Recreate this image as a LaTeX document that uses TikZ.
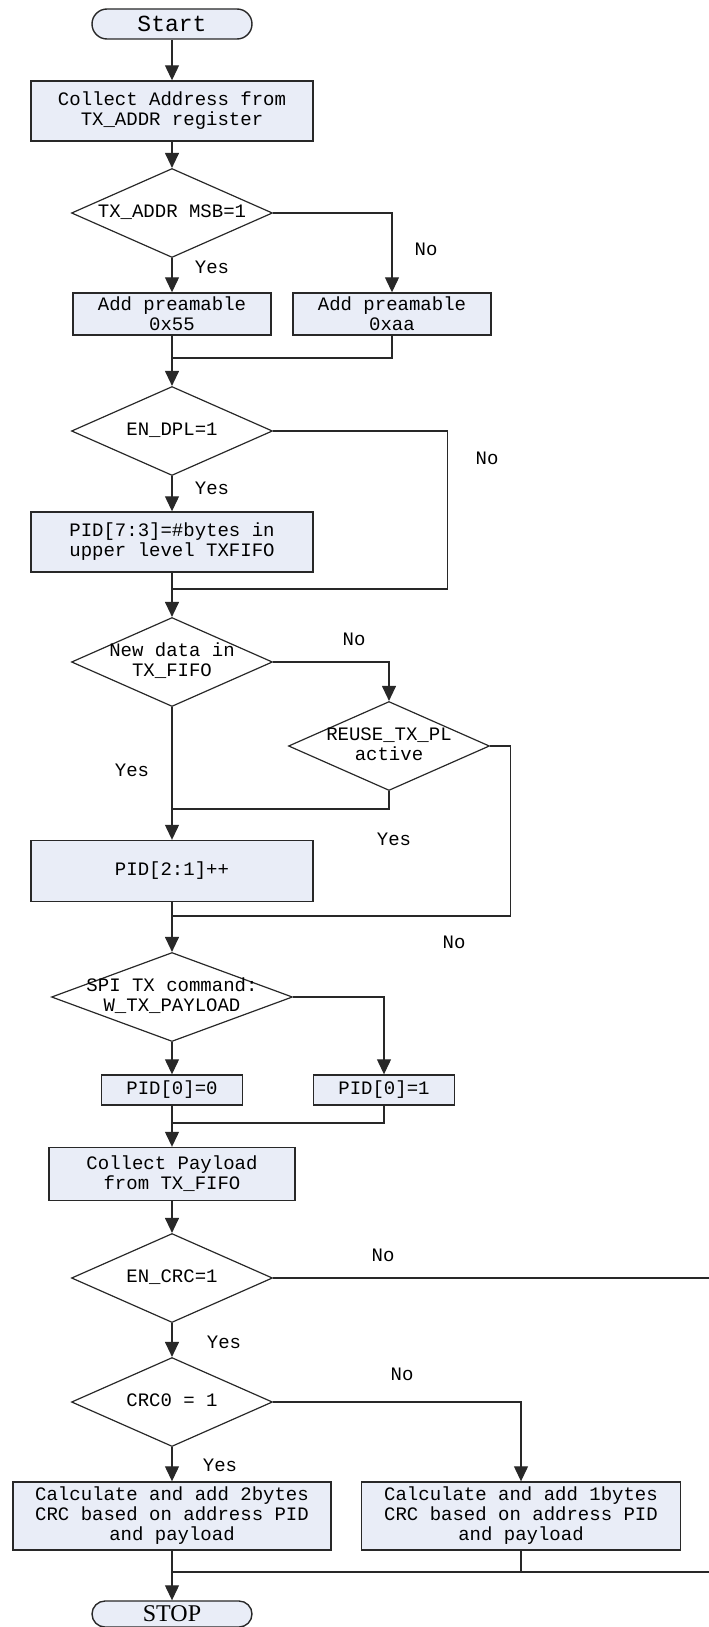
\documentclass[tikz,border=0pt]{standalone}
\usepackage{fontspec}
\setmainfont{Liberation Serif}
\setmonofont{Liberation Mono}
\usepackage{tikz}
\usetikzlibrary{shapes.geometric,arrows.meta}
\definecolor{boxfill}{RGB}{233,237,247}
\definecolor{edgegray}{RGB}{40,40,40}
\newcommand{\dtext}[1]{\raisebox{-0.25em}[0pt][0pt]{\makebox[0pt]{\begin{tabular}{@{}c@{}}#1\end{tabular}}}}
\tikzstyle{flowbox} = [draw=edgegray, fill=boxfill, line width=0.7pt,
    rectangle, inner sep=1pt, align=center, font=\fontsize{9.5pt}{10pt}\selectfont\ttfamily]
\tikzstyle{decisionbox} = [draw=edgegray, line width=0.6pt, diamond, inner sep=0pt,
    minimum width=100.5pt, minimum height=44.5pt, font=\fontsize{9.5pt}{10pt}\selectfont\ttfamily]
\tikzstyle{termbox} = [draw=edgegray, fill=boxfill, line width=0.7pt, rectangle,
    rounded corners=7.5pt, minimum width=80pt, minimum height=15pt, inner sep=0pt]
\tikzstyle{flowline} = [draw=edgegray, line width=0.6pt]
\tikzstyle{flowarrow} = [flowline, -{Triangle[length=7.5pt,width=7pt]}]
\tikzstyle{branchtext} = [inner sep=0pt, font=\fontsize{9.5pt}{10pt}\selectfont\ttfamily]

\begin{document}
\begin{tikzpicture}[x=0.5pt, y=-0.5pt]
                \useasboundingbox (0,0) rectangle (708,1627);
                \node [termbox, font=\fontsize{11.5pt}{12pt}\selectfont\ttfamily] (start) at (172,24) {Start};
                \node [flowbox, minimum width=141pt, minimum height=30pt] (addr) at (172,111) {Collect Address from\\TX\_ADDR register};
                \node [decisionbox] (msb) at (172,213) {\dtext{TX\_ADDR MSB=1}};
                \node [flowbox, minimum width=99pt, minimum height=21pt] (pre55) at (172,314) {Add preamable\\0x55};
                \node [flowbox, minimum width=99pt, minimum height=21pt] (preaa) at (392,314) {Add preamable\\0xaa};
                \node [decisionbox] (dpl) at (172,431) {\dtext{EN\_DPL=1}};
                \node [flowbox, minimum width=141pt, minimum height=30pt] (pidlen) at (172,542) {PID[7:3]=\#bytes in\\upper level TXFIFO};
                \node [decisionbox] (newdata) at (172,662) {\dtext{New data in\\TX\_FIFO}};
                \node [decisionbox] (reuse) at (389,746) {\dtext{REUSE\_TX\_PL\\active}};
                \node [flowbox, minimum width=141pt, minimum height=30.5pt] (pidinc) at (172,871) {PID[2:1]++};
                \node [decisionbox, minimum width=120.5pt] (spi) at (172,997) {\dtext{SPI TX command:\\W\_TX\_PAYLOAD}};
                \node [flowbox, minimum width=70.5pt, minimum height=15pt] (pid0) at (172,1090) {PID[0]=0};
                \node [flowbox, minimum width=70.5pt, minimum height=15pt] (pid1) at (384,1090) {PID[0]=1};
                \node [flowbox, minimum width=123pt, minimum height=26.5pt] (payload) at (172,1174) {Collect Payload\\from TX\_FIFO};
                \node [decisionbox] (crc) at (172,1278) {\dtext{EN\_CRC=1}};
                \node [decisionbox] (crco) at (172,1402) {\dtext{CRC0 = 1}};
                \node [flowbox, minimum width=159pt, minimum height=34pt] (crc2) at (172,1516) {Calculate and add 2bytes\\CRC based on address PID\\and payload};
                \node [flowbox, minimum width=159.5pt, minimum height=34pt] (crc1) at (521,1516) {Calculate and add 1bytes\\CRC based on address PID\\and payload};
                \node [termbox, minimum height=13pt, rounded corners=6.5pt, font=\fontsize{12pt}{12pt}\selectfont\rmfamily] (stop) at (172,1614) {STOP};
                \coordinate (j1) at (172,358);
                \coordinate (j2) at (172,589);
                \coordinate (j3) at (172,809);
                \coordinate (j4) at (172,916);
                \coordinate (j5) at (172,1123);
                \coordinate (j6) at (172,1572);
                \draw [flowarrow] (start) -- (addr);
                \draw [flowarrow] (addr) -- (msb);
                \draw [flowarrow] (msb) -- (pre55);
                \draw [flowarrow] (msb.east) -| (preaa.north);
                \draw [flowarrow] (pre55) -- (dpl);
                \draw [flowline] (preaa.south) |- (j1);
                \draw [flowarrow] (dpl) -- (pidlen);
                \draw [flowline] (dpl.east) -- ++(174,0) |- (j2);
                \draw [flowarrow] (pidlen) -- (newdata);
                \draw [flowarrow] (newdata.east) -| (reuse.north);
                \draw [flowarrow] (newdata) -- (pidinc);
                \draw [flowline] (reuse.south) |- (j3);
                \draw [flowline] (reuse.east) -- ++(20,0) |- (j4);
                \draw [flowarrow] (pidinc) -- (spi);
                \draw [flowarrow] (spi) -- (pid0);
                \draw [flowarrow] (spi.east) -| (pid1.north);
                \draw [flowline] (pid1.south) |- (j5);
                \draw [flowarrow] (pid0) -- (payload);
                \draw [flowarrow] (payload) -- (crc);
                \draw [flowarrow] (crc) -- (crco);
                \draw [flowline] (crc.east) -- ++(460,0) |- (j6);
                \draw [flowarrow] (crco) -- (crc2);
                \draw [flowarrow] (crco.east) -| (crc1.north);
                \draw [flowline] (crc1.south) |- (j6);
                \draw [flowarrow] (crc2) -- (stop);
                \node [branchtext] (yes1) at (212,267) {Yes};
                \node [branchtext] (no1) at (426,249) {No};
                \node [branchtext] (yes2) at (212,488) {Yes};
                \node [branchtext] (no2) at (487,458) {No};
                \node [branchtext] (no3) at (354,639) {No};
                \node [branchtext] (yes3) at (132,770) {Yes};
                \node [branchtext] (yes4) at (394,839) {Yes};
                \node [branchtext] (no4) at (454,942) {No};
                \node [branchtext] (no5) at (383,1255) {No};
                \node [branchtext] (yes5) at (224,1342) {Yes};
                \node [branchtext] (no6) at (402,1374) {No};
                \node [branchtext] (yes6) at (220,1465) {Yes};
            \end{tikzpicture}
\end{document}
